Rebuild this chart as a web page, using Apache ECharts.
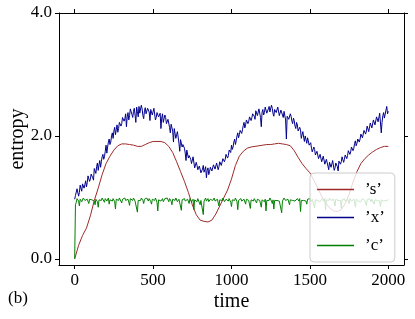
<!DOCTYPE html>
<html>
<head>
<meta charset="utf-8">
<script src="https://cdn.jsdelivr.net/npm/echarts@6/dist/echarts.min.js"></script>
<style>html,body{margin:0;padding:0;background:#fff}#c{width:415px;height:319px}</style>
</head>
<body>
<div id="c"></div>
<script>
// tick labels
const xTicks = [0, 500, 1000, 1500, 2000];
const yTicks = [0, 2, 4];

// 's' series, sampled every 25 time units
const sTimeStep = 25;
const sValues = [0.00,0.22,0.38,0.50,0.70,0.95,1.15,1.37,1.55,1.67,1.77,1.84,1.87,1.87,1.86,1.85,1.83,1.83,1.86,1.89,
1.91,1.91,1.91,1.89,1.83,1.73,1.58,1.42,1.26,1.08,0.88,0.72,0.63,0.61,0.60,0.63,0.73,0.86,0.99,1.12,
1.30,1.52,1.67,1.75,1.80,1.82,1.83,1.84,1.85,1.86,1.86,1.87,1.88,1.87,1.86,1.84,1.76,1.65,1.55,1.47,
1.40,1.28,1.15,1.02,0.91,0.83,0.78,0.77,0.80,0.90,1.05,1.25,1.42,1.55,1.63,1.69,1.74,1.78,1.81,1.83,1.83];

// 'x' and 'c' series, sampled every 5 time units
const xcTimeStep = 5;
const xValues = [
0.97,1.03,1.06,1.14,1.12,1.02,1.08,1.20,1.18,1.10,1.22,1.25,1.15,1.21,1.27,1.17,1.24,1.35,1.33,1.26,1.30,1.38,1.40,1.32,1.28,1.47,1.45,1.39,1.50,1.56,1.44,1.53,1.60,1.49,1.58,1.66,1.70,1.62,1.66,1.75,
1.85,1.72,1.82,1.90,1.95,1.86,1.90,2.00,2.05,1.96,2.08,2.14,2.02,2.10,2.18,2.06,2.12,2.22,2.25,2.16,2.20,2.30,2.32,2.24,2.28,2.36,2.15,2.31,2.38,2.26,2.33,2.44,2.42,2.35,2.30,2.40,2.45,2.34,2.22,2.47,
2.40,2.31,2.48,2.37,2.35,2.50,2.44,2.33,2.28,2.41,2.46,2.36,2.38,2.45,2.47,2.39,2.25,2.43,2.42,2.34,2.36,2.45,2.44,2.26,2.30,2.38,2.40,2.31,2.33,2.37,2.12,2.29,2.36,2.22,2.28,2.34,2.30,2.20,2.18,2.27,
2.25,2.14,2.05,2.19,2.20,2.08,1.90,2.12,2.10,1.96,2.02,2.07,1.98,1.88,1.75,1.94,1.92,1.82,1.86,1.89,1.80,1.72,1.60,1.77,1.75,1.64,1.68,1.71,1.62,1.55,1.58,1.66,1.65,1.48,1.50,1.57,1.52,1.45,1.42,1.51,
1.48,1.40,1.38,1.46,1.52,1.41,1.45,1.50,1.32,1.44,1.48,1.37,1.42,1.49,1.50,1.43,1.44,1.53,1.52,1.46,1.47,1.56,1.55,1.45,1.50,1.58,1.60,1.52,1.55,1.63,1.66,1.58,1.62,1.70,1.72,1.64,1.68,1.77,1.80,1.73,
1.85,1.78,1.82,1.90,1.95,1.86,1.92,2.00,2.05,1.97,2.02,2.09,2.12,2.04,2.10,2.17,2.22,2.13,2.18,2.26,2.28,2.20,2.24,2.31,2.33,2.25,2.30,2.36,2.38,2.32,2.27,2.41,2.40,2.33,2.35,2.44,2.42,2.30,2.15,2.39,
2.43,2.34,2.38,2.47,2.46,2.37,2.36,2.44,2.48,2.39,2.40,2.50,2.45,2.36,2.32,2.43,2.46,2.38,2.40,2.47,2.44,2.33,2.35,2.42,2.42,2.34,2.30,2.40,2.38,2.26,1.95,2.32,2.35,2.27,2.28,2.36,2.32,2.24,2.20,2.29,
2.25,2.16,2.12,2.22,2.18,2.08,2.05,2.14,2.10,1.96,2.02,2.07,1.98,1.91,2.00,1.94,1.88,1.97,1.92,1.85,1.84,1.89,1.80,1.74,1.76,1.82,1.78,1.69,1.70,1.75,1.72,1.63,1.65,1.70,1.68,1.58,1.60,1.67,1.64,1.54,
1.55,1.62,1.60,1.51,1.45,1.57,1.58,1.49,1.50,1.60,1.57,1.44,1.48,1.56,1.58,1.50,1.43,1.59,1.62,1.54,1.58,1.66,1.65,1.57,1.62,1.69,1.72,1.63,1.68,1.76,1.78,1.70,1.74,1.82,1.85,1.76,1.80,1.88,1.92,1.84,
1.88,1.95,1.98,1.90,1.95,2.03,2.05,1.97,2.00,2.09,2.12,2.03,2.08,2.16,2.18,2.07,2.10,2.21,2.22,2.13,2.15,2.26,2.28,2.18,2.20,2.31,2.32,2.23,2.25,2.37,2.35,2.05,2.22,2.33,2.38,2.29,2.30,2.42,2.48,2.36,2.40];
const cValues = [
0.00,0.88,0.92,0.98,0.97,0.94,0.86,0.97,0.98,0.93,0.95,0.99,0.99,0.95,0.93,0.98,0.97,0.94,0.90,0.97,0.98,0.95,0.96,0.99,0.99,0.94,0.88,0.97,0.97,0.93,0.84,0.96,0.98,0.94,0.95,0.99,0.99,0.96,0.92,0.98,
0.97,0.94,0.96,0.99,0.89,0.96,0.98,0.95,0.94,0.98,0.99,0.93,0.81,0.97,0.97,0.94,0.95,0.99,0.98,0.96,0.91,0.97,0.97,0.99,0.99,0.95,0.93,0.97,0.97,0.92,0.87,0.98,0.98,0.95,0.95,0.99,0.99,0.94,0.92,0.97,
0.76,0.95,0.97,0.93,0.95,0.99,0.98,0.95,0.90,0.97,0.97,0.94,0.99,0.96,0.94,0.98,0.97,0.93,0.89,0.97,0.98,0.95,0.95,0.99,0.99,0.92,0.78,0.96,0.97,0.99,0.94,0.97,0.98,0.93,0.92,0.98,0.97,0.95,0.99,0.96,
0.93,0.98,0.96,0.94,0.88,0.97,0.98,0.95,0.95,0.99,0.97,0.93,0.91,0.97,0.98,0.95,0.79,0.96,0.96,0.99,0.98,0.94,0.93,0.97,0.97,0.95,0.90,0.98,0.98,0.93,0.95,0.97,0.80,0.96,0.97,0.94,0.93,0.98,0.98,0.95,
0.88,0.95,0.96,0.92,0.72,0.94,0.97,0.99,0.94,0.97,0.98,0.93,0.91,0.97,0.97,0.95,0.95,0.98,0.99,0.94,0.92,0.97,0.97,0.95,0.86,0.96,0.98,0.94,0.95,0.99,0.97,0.93,0.90,0.97,0.98,0.95,0.94,0.98,0.97,0.92,
0.85,0.96,0.98,0.94,0.95,0.99,0.97,0.93,0.80,0.95,0.96,0.98,0.98,0.94,0.93,0.97,0.97,0.95,0.89,0.97,0.98,0.94,0.95,0.98,0.82,0.96,0.97,0.93,0.94,0.98,0.98,0.95,0.91,0.97,0.97,0.94,0.95,0.98,0.84,0.96,
0.98,0.95,0.93,0.97,0.78,0.95,0.97,0.94,0.95,0.99,0.98,0.94,0.90,0.96,0.81,0.95,0.97,0.93,0.95,0.98,0.98,0.94,0.92,0.97,0.75,0.94,0.96,0.99,0.98,0.95,0.93,0.97,0.97,0.94,0.88,0.96,0.98,0.95,0.95,0.98,
0.97,0.94,0.91,0.97,0.98,0.95,0.94,0.98,0.77,0.95,0.97,0.93,0.95,0.98,0.98,0.94,0.89,0.97,0.96,0.99,0.98,0.93,0.93,0.97,0.97,0.95,0.83,0.96,0.98,0.94,0.95,0.98,0.97,0.93,0.90,0.97,0.98,0.95,0.94,0.98,
0.80,0.96,0.97,0.94,0.95,0.99,0.98,0.95,0.92,0.97,0.97,0.93,0.86,0.97,0.98,0.94,0.95,0.98,0.97,0.95,0.82,0.96,0.96,0.99,0.98,0.94,0.93,0.97,0.97,0.95,0.90,0.98,0.98,0.94,0.95,0.97,0.97,0.93,0.84,0.97,
0.98,0.95,0.94,0.97,0.97,0.93,0.91,0.98,0.98,0.95,0.95,0.97,0.87,0.96,0.97,0.94,0.98,0.95,0.93,0.97,0.97,0.94,0.89,0.96,0.98,0.95,0.95,0.98,0.97,0.94,0.85,0.96,0.98,0.93,0.94,0.97,0.97,0.95,0.92,0.97,0.96];

const seriesNames = ['\u2019s\u2019', '\u2019x\u2019', '\u2019c\u2019'];
const seriesColors = ['#9e2a2a', '#00008b', '#008000'];

function pairs(vals, step) { return vals.map((v, i) => [i * step, v]); }

const FONT = 'Liberation Serif';
const chart = echarts.init(document.getElementById('c'), null, {renderer: 'canvas'});

const axisLineStyle = {color: '#000', width: 1};
function xAxisCfg(pos, labels) {
  return {
    type: 'value', position: pos, min: -100, max: 2100,
    axisLine: {show: true, onZero: false, lineStyle: axisLineStyle},
    axisTick: {show: true, inside: false, length: 4, customValues: xTicks, lineStyle: axisLineStyle},
    axisLabel: {show: labels, customValues: xTicks, formatter: v => String(v), color: '#000', fontFamily: FONT, fontSize: 17, margin: 7},
    splitLine: {show: false}
  };
}
function yAxisCfg(pos, labels) {
  return {
    type: 'value', position: pos, min: -0.1, max: 4.0,
    axisLine: {show: true, onZero: false, lineStyle: axisLineStyle},
    axisTick: {show: true, inside: false, length: 4, customValues: yTicks, lineStyle: axisLineStyle},
    axisLabel: {show: labels, customValues: yTicks, formatter: v => v.toFixed(1), color: '#000', fontFamily: FONT, fontSize: 17, margin: 7},
    splitLine: {show: false}
  };
}
const xb = xAxisCfg('bottom', true);
xb.name = 'time'; xb.nameLocation = 'middle'; xb.nameGap = 27; xb.nameMoveOverlap = false;
xb.nameTextStyle = {color: '#000', fontFamily: FONT, fontSize: 20};
const yl = yAxisCfg('left', true);
yl.name = 'entropy'; yl.nameLocation = 'middle'; yl.nameGap = 31; yl.nameMoveOverlap = false;
yl.nameTextStyle = {color: '#000', fontFamily: FONT, fontSize: 20};

chart.setOption({
  animation: false,
  grid: {left: 59, right: 11, top: 13, bottom: 54, containLabel: false, outerBoundsMode: 'none'},
  xAxis: [xb, xAxisCfg('top', false)],
  yAxis: [yl, yAxisCfg('right', false)],
  legend: {
    orient: 'vertical', left: 310, top: 173,
    padding: [8, 10, 8, 7], itemGap: 11, itemWidth: 37, itemHeight: 1.5, icon: 'rect',
    backgroundColor: 'rgba(255,255,255,0.8)', borderColor: '#cccccc', borderWidth: 1, borderRadius: 4,
    textStyle: {color: '#000', fontFamily: FONT, fontSize: 17, lineHeight: 15, padding: [0, 0, 0, 6]},
    data: seriesNames
  },
  graphic: [{type: 'text', left: 8, top: 290, style: {text: '(b)', fontFamily: FONT, fontSize: 17, fill: '#000'}}],
  series: [
    {name: seriesNames[0], type: 'line', data: pairs(sValues, sTimeStep), symbol: 'none', lineStyle: {width: 1, color: seriesColors[0]}, itemStyle: {color: seriesColors[0]}},
    {name: seriesNames[1], type: 'line', data: pairs(xValues, xcTimeStep), symbol: 'none', lineStyle: {width: 1, color: seriesColors[1]}, itemStyle: {color: seriesColors[1]}},
    {name: seriesNames[2], type: 'line', data: pairs(cValues, xcTimeStep), symbol: 'none', lineStyle: {width: 1, color: seriesColors[2]}, itemStyle: {color: seriesColors[2]}}
  ]
});
</script>
</body>
</html>
